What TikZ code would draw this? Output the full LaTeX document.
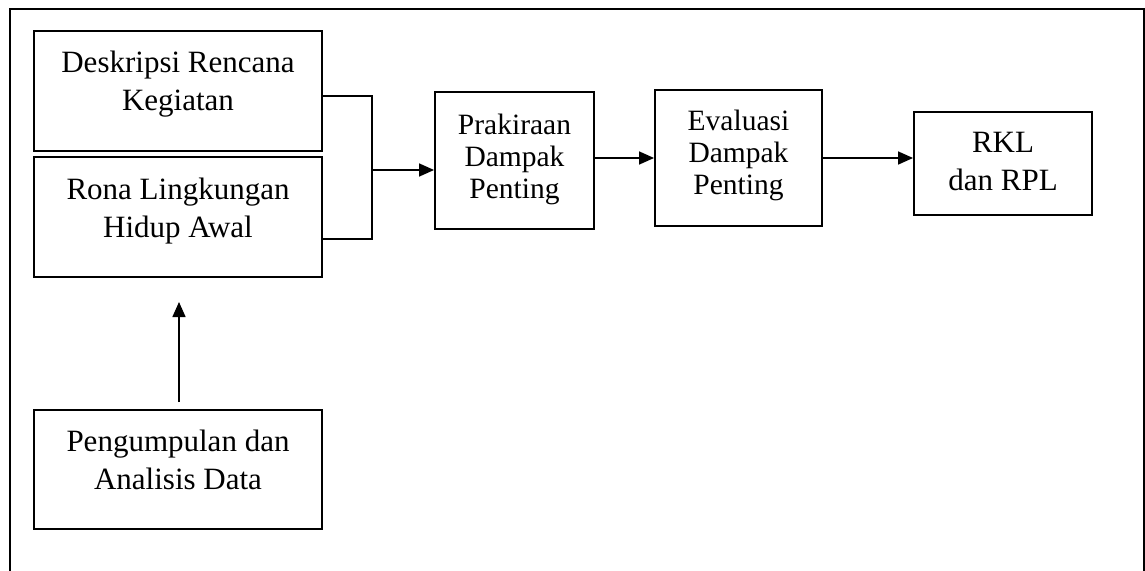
\documentclass[tikz,border=0pt]{standalone}
\usepackage{fontspec}
\setmainfont{Liberation Serif}
\usetikzlibrary{arrows.meta}

\tikzset{
  stepbox/.style={draw=black, line width=1.9pt, fill=none, inner sep=0pt, rectangle},
  bigtxt/.style={font=\fontsize{31}{38}\selectfont, align=center, anchor=base, inner sep=0pt},
  midtxt/.style={font=\fontsize{29.5}{32}\selectfont, align=center, anchor=base, inner sep=0pt},
  link/.style={draw=black, line width=1.5pt},
  flow/.style={link, -{Triangle[length=15pt,width=13pt]}},
  frame/.style={draw=black, line width=2.2pt}
}

\begin{document}
\begin{tikzpicture}[x=1pt, y=-1pt]
  \useasboundingbox (0,0) rectangle (1145,570);
  \clip (0,0) rectangle (1145,570);

  % outer frame (open at the bottom edge of the page)
  \draw[frame] (10,575) -- (10,9) -- (1144,9) -- (1144,575);

  % left column boxes; text anchored at the baseline of its last line
  \node[stepbox, minimum width=288pt, minimum height=120pt] (desk) at (178,91) {};
  \node[bigtxt] (deskT) at (178,110) {Deskripsi Rencana\\Kegiatan};

  \node[stepbox, minimum width=288pt, minimum height=120pt] (rona) at (178,217) {};
  \node[bigtxt] (ronaT) at (178,237) {Rona Lingkungan\\Hidup Awal};

  \node[stepbox, minimum width=288pt, minimum height=119pt] (data) at (178,469.5) {};
  \node[bigtxt] (dataT) at (178,489) {Pengumpulan dan\\Analisis Data};

  % main chain
  \node[stepbox, minimum width=159pt, minimum height=137pt] (prak) at (514.5,160.5) {};
  \node[midtxt] (prakT) at (514.5,198) {Prakiraan\\Dampak\\Penting};

  \node[stepbox, minimum width=167pt, minimum height=136pt] (eval) at (738.5,158) {};
  \node[midtxt] (evalT) at (738.5,194) {Evaluasi\\Dampak\\Penting};

  \node[stepbox, minimum width=178pt, minimum height=103pt] (rkl) at (1003,163.5) {};
  \node[bigtxt] (rklT) at (1003,190) {RKL\\dan RPL};

  % bracket joining the two left boxes
  \coordinate (j1) at (372,96);
  \coordinate (j2) at (372,239);
  \coordinate (jm) at (372,170);
  \draw[link] (desk.east |- j1) -- (j1) -- (j2) -- (rona.east |- j2);
  \draw[flow] (jm) -- (prak.west |- jm);

  \coordinate (pe) at (0,158);
  \draw[flow] (prak.east |- pe) -- (eval.west |- pe);
  \draw[flow] (eval.east |- pe) -- (rkl.west |- pe);

  % data collection feeds the baseline
  \coordinate (up0) at (179,402);
  \coordinate (up1) at (179,302);
  \draw[flow] (up0) -- (up1);
\end{tikzpicture}
\end{document}
